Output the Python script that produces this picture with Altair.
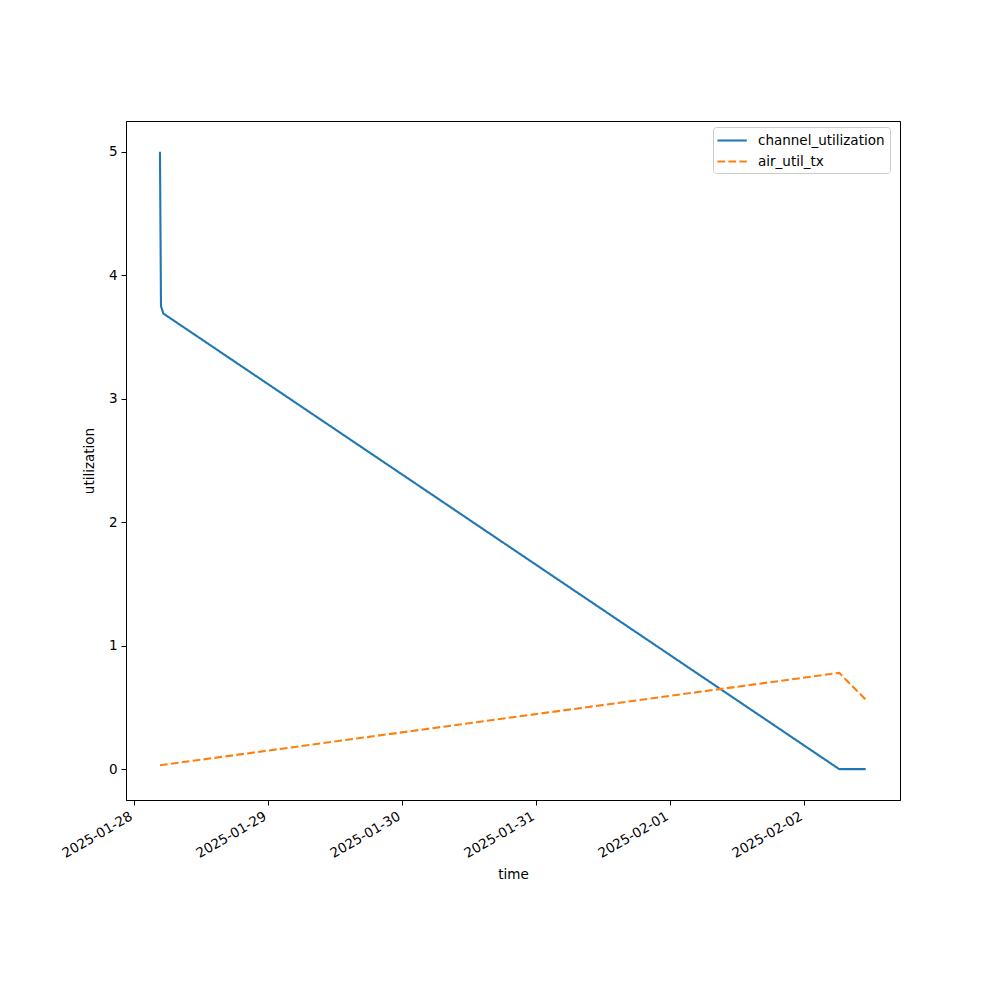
import altair as alt
import pandas as pd

times = [
    "2025-01-28T04:34:00",
    "2025-01-28T04:45:00",
    "2025-01-28T05:11:00",
    "2025-02-02T06:14:00",
    "2025-02-02T10:58:00",
]
channel_utilization = [5.0, 3.75, 3.69, 0.0, 0.0]
air_util_tx = [0.032, 0.033, 0.035, 0.78, 0.563]
series_names = ["channel_utilization", "air_util_tx"]
tick_dates = ["2025-01-28", "2025-01-29", "2025-01-30", "2025-01-31", "2025-02-01", "2025-02-02"]

rows = []
for name, vals in zip(series_names, [channel_utilization, air_util_tx]):
    for t, v in zip(times, vals):
        rows.append({"time": t, "utilization": v, "series": name})
df = pd.DataFrame(rows)

font = "DejaVu Sans"

x_values = [alt.DateTime(year=int(d[:4]), month=int(d[5:7]), date=int(d[8:10])) for d in tick_dates]


def make_legend():
    return alt.Legend(
        title=None,
        orient="none",
        legendX=587,
        legendY=6,
        symbolType="M-1.3,0L2.9,0",
        symbolSize=196,
        symbolStrokeWidth=2.1,
        labelFontSize=13.5,
        labelFont=font,
        labelColor="black",
        fillColor="white",
        strokeColor="#cccccc",
        cornerRadius=3,
        padding=5,
        rowPadding=6,
        labelOffset=23,
    )


chart = alt.Chart(df).mark_line(strokeWidth=2.1, clip=True).encode(
    x=alt.X(
        "time:T",
        title="time",
        scale=alt.Scale(
            domain=[
                alt.DateTime(year=2025, month=1, date=27, hours=22, minutes=29),
                alt.DateTime(year=2025, month=2, date=2, hours=17, minutes=7),
            ],
            nice=False,
        ),
        axis=alt.Axis(
            values=x_values,
            format="%Y-%m-%d",
            labelAngle=-30,
            labelAlign="right",
            labelBaseline="top",
            labelOffset=-7,
            grid=False,
            tickSize=5,
            labelPadding=4,
            titlePadding=8,
        ),
    ),
    y=alt.Y(
        "utilization:Q",
        title="utilization",
        scale=alt.Scale(domain=[-0.25, 5.25], nice=False, zero=False),
        axis=alt.Axis(
            values=[0, 1, 2, 3, 4, 5],
            grid=False,
            tickSize=5,
            labelPadding=4,
            titlePadding=12,
        ),
    ),
    color=alt.Color(
        "series:N",
        sort=series_names,
        scale=alt.Scale(domain=series_names, range=["#1f77b4", "#ff7f0e"]),
        legend=make_legend(),
    ),
    strokeDash=alt.StrokeDash(
        "series:N",
        sort=series_names,
        scale=alt.Scale(domain=series_names, range=[[1, 0], [7.7, 3.3]]),
        legend=make_legend(),
    ),
).properties(
    width=774,
    height=679,
    padding={"left": 118, "top": 113, "right": 92, "bottom": 192},
    autosize=alt.AutoSizeParams(type="none"),
).configure_view(
    stroke="black", strokeWidth=1
).configure_axis(
    labelFont=font,
    titleFont=font,
    labelFontSize=13.5,
    titleFontSize=13.5,
    titleFontWeight="normal",
    labelColor="black",
    titleColor="black",
    domainColor="black",
    tickColor="black",
    domainWidth=1,
    tickWidth=1,
)

chart.save("out.html", embed_options={"renderer": "svg", "actions": False})
